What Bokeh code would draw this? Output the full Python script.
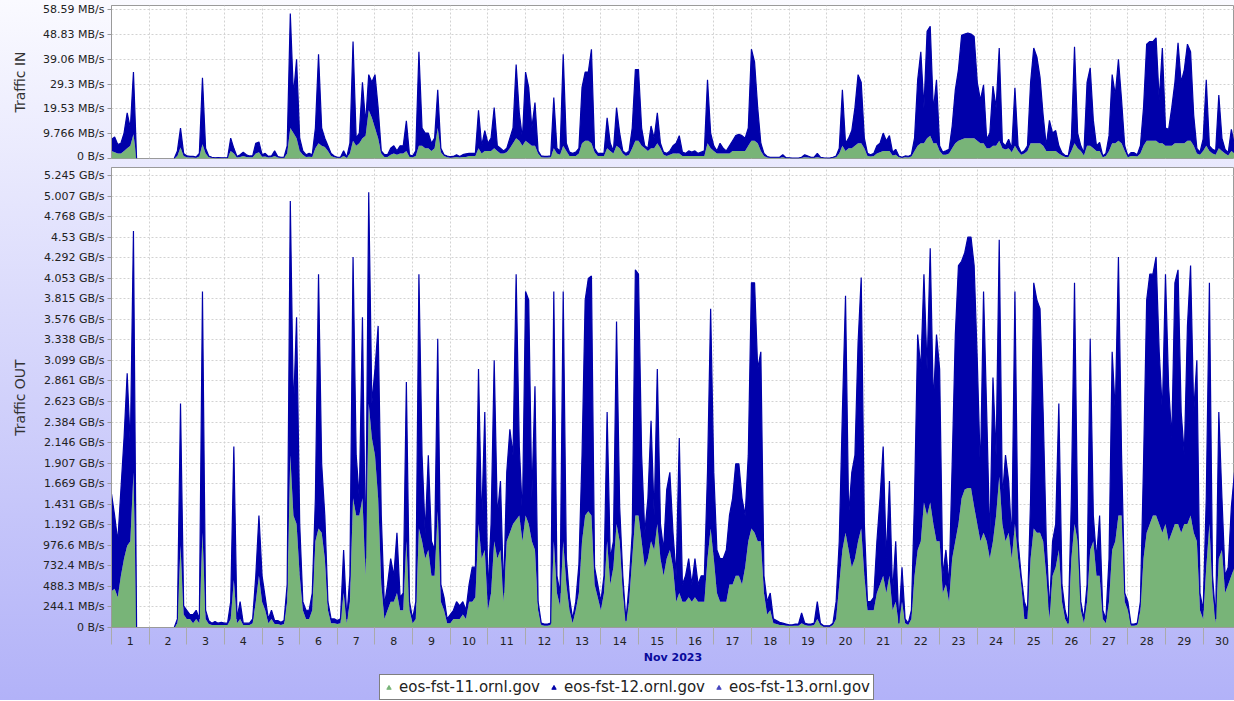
import numpy as np
from bokeh.plotting import figure
from bokeh.models import ColumnDataSource, Range1d, FixedTicker, Legend, LegendItem
from bokeh.layouts import column
from bokeh.transform import stack
from bokeh.embed import file_html
from bokeh.resources import INLINE

N = None  # no data

# ---- Traffic IN (MB/s), one row per day of Nov 2023, samples every 2 h ----
IN_FST11 = [
    3, 2.5, 2, 2, 3, 4, 5, 9.5, 0, N, N, N,
    N, N, N, N, N, N, N, N, 0, 1, 4.3, 1,
    0.5, 0.4, 0.4, 0.3, 0.8, 5.6, 2, 0.5, 0.3, 0.2, 0.2, 0.2,
    0.2, 0.2, 3, 2, 0.4, 0.6, 1, 0.6, 0.5, 0.5, 2, 2.5,
    0.7, 0.8, 0.4, 0.5, 1, 0.4, 0.3, 0.3, 2, 12, 10, 8,
    3, 1.5, 0.6, 0.7, 0.6, 4, 6, 5, 4.5, 3, 1, 0.5,
    0.3, 0.3, 1, 0.3, 2, 7, 5, 6, 8, 9, 19, 16,
    12, 8, 2, 0.6, 0.6, 1.5, 2, 1.5, 2, 2, 3, 0.6,
    0.5, 1, 5, 5, 4, 4, 3, 4, 12, 2.5, 1, 0.5,
    0.3, 0.4, 0.6, 0.4, 0.6, 0.6, 1, 1, 1, 4, 2, 3,
    3, 3, 4, 3, 2, 2, 2.5, 4, 6, 8, 7, 5,
    7, 6, 5, 5, 2, 0.5, 0.4, 0.4, 0.5, 4, 2, 1.5,
    5, 3, 1, 1, 1, 2, 6, 7, 7, 6, 2.5, 1,
    1, 1, 4, 3, 2, 5, 4, 2, 1, 1.5, 4, 7,
    7, 5, 4, 3, 4, 4, 6, 4, 1.5, 1, 1.5, 2,
    2, 2, 1, 1, 1, 1, 1, 1, 1, 1, 6, 4,
    3, 2, 2, 2, 2, 2, 3, 3, 3, 3, 3, 5,
    7, 7, 6, 3, 1, 0.4, 0.3, 0.3, 0.3, 0.3, 0.5, 0.2,
    0.2, 0.1, 0.1, 0.1, 0.3, 0.5, 0.4, 0.3, 0.3, 0.5, 0.3, 0.2,
    0.1, 0.1, 0.3, 0.5, 2, 5, 3, 4, 4, 5, 6, 6,
    4, 1, 0.8, 1, 2, 2.5, 3, 3, 3, 1.2, 1.5, 0.5,
    0.3, 0.5, 0.4, 0.8, 3, 5, 6, 6, 8, 9, 6, 6,
    3, 1.5, 1.5, 2, 4, 6, 7, 7.5, 8, 8, 8, 8,
    7, 6, 6, 4, 4, 5, 5, 7, 4, 3.5, 4, 2.5,
    5, 3, 1.5, 2, 3, 6, 6, 6, 6, 5, 3, 3,
    3, 3, 2, 1.2, 0.6, 0.5, 3, 6, 4, 3, 1.2, 5,
    5, 4, 3, 3, 0.5, 1, 3, 6, 6, 7, 6, 3,
    0.5, 1, 1, 0.8, 2, 5, 7, 7, 7, 7, 6, 6,
    5, 5, 5, 6, 6, 6, 6, 7, 7, 5, 2, 1.5,
    3, 5, 3, 2, 1.5, 4, 3, 2, 1.2, 3, 2, 2,
]
IN_FST12 = [
    4.5, 6, 3.5, 4, 7, 14, 7, 24.5, 0, N, N, N,
    N, N, N, N, N, N, N, N, 0, 2, 7.7, 1,
    0.5, 0.4, 0.4, 0.3, 1.2, 26.2, 2, 0.5, 0.2, 0.1, 0.2, 0.1,
    0.1, 0.1, 5, 2, 0.4, 0.9, 1.5, 0.9, 0.5, 0.5, 4, 4,
    0.8, 1.2, 0.4, 0.5, 2, 0.4, 0.2, 0.2, 3, 45, 15, 31,
    5, 1.5, 0.9, 1.3, 0.9, 8, 35, 7, 3.5, 2, 1, 0.5,
    0.2, 0.2, 2, 0.2, 4, 39, 3, 4, 22, 5, 14, 14,
    21, 12, 1, 0.9, 0.9, 2.5, 3, 1.5, 3, 3, 11.8, 0.9,
    0.5, 2, 37, 7, 6, 6, 3, 4, 15, 1.5, 0.5, 0.5,
    0.4, 0.4, 0.9, 0.4, 0.9, 1.2, 1, 1, 1, 15, 3, 8,
    3, 5, 16, 2, 2, 1, 1.5, 4, 6, 29, 11, 3,
    27, 22, 7, 17, 1, 0.5, 0.4, 0.4, 0.5, 20, 2, 1.5,
    36, 3, 1.5, 1, 1.5, 2, 22, 27, 27, 37, 1.5, 1,
    1, 1, 12, 3, 1, 15, 6, 1, 1, 1.5, 8, 28,
    28, 7, 1, 1, 8.8, 4, 12, 2, 1, 1, 1.5, 3,
    4, 7, 1.5, 1, 2, 1.5, 2, 1, 1.5, 2, 25, 6,
    2, 1, 4, 2, 1, 3, 4, 6, 6.5, 6, 5, 7,
    36, 31, 14, 3, 1, 0.4, 0.2, 0.2, 0.2, 0.2, 1, 0.1,
    0.1, 0.1, 0.1, 0.1, 0.2, 1, 0.6, 0.2, 0.2, 1.5, 0.2, 0.1,
    0.1, 0.1, 0.2, 0.5, 2, 22, 3, 4, 7, 15, 27, 24,
    4, 1, 0.7, 1, 3, 3.5, 7, 4, 6, 1.3, 2.1, 0.5,
    0.2, 0.5, 0.4, 0.7, 5, 26, 36, 14, 42, 43, 13, 25,
    2, 1, 1.5, 1.6, 8.8, 21, 28, 41, 41, 41.4, 41, 40,
    23, 17, 23, 3.6, 6, 23.5, 15, 36.5, 2.3, 1.5, 3.6, 1.5,
    22.8, 2, 0.8, 1, 2, 24, 37.5, 34, 26, 12, 2, 12,
    7, 8, 3, 1.1, 0.6, 0.5, 5, 38, 6, 2, 1.1, 25,
    30.7, 11, 2, 3.3, 0.5, 1, 6, 27, 19, 32, 17, 2,
    0.5, 1.3, 1.3, 0.7, 3, 15, 38, 39, 39, 40.5, 17, 37.5,
    7, 6.5, 15, 24, 39.5, 24, 29, 38, 35, 12, 2, 1,
    4.6, 26, 2, 1.6, 1.5, 21, 5, 1.6, 1.1, 8.5, 3, 3,
]

# ---- Traffic OUT (GB/s) ----
OUT_FST11 = [
    0.42, 0.45, 0.35, 0.6, 0.8, 0.95, 1.0, 1.8, 0, N, N, N,
    N, N, N, N, N, N, N, N, 0, 0.05, 0.95, 0.15,
    0.1, 0.1, 0.05, 0.1, 0.05, 1.1, 0.1, 0.04, 0.03, 0.03, 0.03, 0.03,
    0.03, 0.03, 0.1, 0.55, 0.05, 0.1, 0.03, 0.03, 0.03, 0.05, 0.3, 0.6,
    0.3, 0.2, 0.05, 0.1, 0.04, 0.04, 0.03, 0.04, 0.3, 2.0, 1.3, 1.2,
    0.6, 0.2, 0.1, 0.1, 0.2, 1.0, 1.15, 1.1, 0.8, 0.2, 0.05, 0.05,
    0.04, 0.05, 0.4, 0.05, 0.3, 1.5, 1.3, 1.3, 1.5, 0.6, 2.6, 2.2,
    2.0, 1.5, 0.5, 0.1, 0.2, 0.3, 0.3, 0.4, 0.2, 0.2, 1.0, 0.2,
    0.05, 0.1, 1.15, 1.0, 0.8, 0.9, 0.6, 0.6, 1.35, 0.3, 0.2, 0.05,
    0.05, 0.1, 0.1, 0.1, 0.15, 0.1, 0.3, 0.3, 0.35, 1.2, 0.8, 0.9,
    0.2, 0.4, 1.0, 0.8, 0.9, 0.3, 1.0, 1.1, 1.2, 1.25, 1.3, 1.0,
    1.3, 1.2, 1.0, 0.9, 0.2, 0.03, 0.02, 0.02, 0.03, 1.0, 0.4, 0.25,
    1.0, 0.5, 0.2, 0.05, 0.2, 0.4, 1.0, 1.3, 1.35, 1.3, 0.5, 0.35,
    0.2, 0.4, 1.0, 0.5, 0.7, 1.2, 1.0, 0.4, 0.05, 0.3, 0.8, 1.3,
    1.3, 1.0, 0.7, 0.8, 1.0, 0.9, 1.2, 0.8, 0.6, 0.8, 0.9, 0.7,
    0.3, 0.4, 0.3, 0.3, 0.35, 0.3, 0.35, 0.3, 0.3, 0.3, 0.8, 1.15,
    0.8, 0.4, 0.3, 0.3, 0.3, 0.5, 0.5, 0.6, 0.6, 0.5, 0.7, 1.0,
    1.15, 1.1, 1.0, 1.0, 0.4, 0.15, 0.2, 0.05, 0.04, 0.03, 0.03, 0.02,
    0.02, 0.02, 0.02, 0.02, 0.05, 0.03, 0.02, 0.02, 0.03, 0.1, 0.03, 0.01,
    0.01, 0.01, 0.03, 0.1, 0.5, 0.9, 1.1, 0.9, 0.7, 0.8, 1.0, 1.15,
    0.6, 0.2, 0.2, 0.2, 0.4, 0.5, 0.6, 0.4, 0.6, 0.2, 0.3, 0.03,
    0.3, 0.05, 0.03, 0.1, 0.6, 0.9, 1.0, 1.45, 1.3, 1.45, 1.2, 1.0,
    1.0, 0.4, 0.5, 0.3, 0.8, 1.0, 1.2, 1.5, 1.6, 1.62, 1.62, 1.4,
    1.2, 1.0, 1.1, 1.0, 0.8, 1.0, 1.3, 1.75, 1.2, 1.0, 1.1, 0.8,
    1.2, 0.8, 0.5, 0.1, 0.1, 0.8, 1.15, 1.1, 1.1, 1.0, 0.6, 0.1,
    0.6, 0.7, 0.9, 0.3, 0.1, 0.03, 0.8, 1.2, 1.0, 0.2, 0.05, 0.3,
    0.9, 1.0, 0.6, 0.6, 0.1, 0.05, 0.3, 0.9, 1.0, 1.3, 1.3, 0.3,
    0.2, 0.02, 0.02, 0.03, 0.2, 0.8, 1.1, 1.2, 1.3, 1.3, 1.2, 1.1,
    1.2, 1.0, 1.1, 1.2, 1.2, 1.1, 1.2, 1.2, 1.3, 1.1, 1.0, 0.2,
    0.1, 0.7, 1.2, 0.4, 0.05, 0.8, 0.9, 0.4, 0.5, 0.6, 0.7, 0.6,
]
OUT_FST12 = [
    1.13, 0.85, 0.65, 1.0, 1.4, 2.0, 1.1, 2.8, 0, N, N, N,
    N, N, N, N, N, N, N, N, 0, 0.05, 1.65, 0.1,
    0.1, 0.05, 0.1, 0.1, 0.05, 2.8, 0.1, 0.04, 0.02, 0.04, 0.02, 0.03,
    0.02, 0.02, 0.2, 1.55, 0.05, 0.2, 0.02, 0.02, 0.02, 0.05, 0.3, 0.7,
    0.3, 0.15, 0.05, 0.1, 0.04, 0.04, 0.03, 0.04, 0.2, 2.95, 1.2, 2.4,
    0.6, 0.1, 0.1, 0.1, 0.2, 0.5, 2.95, 0.8, 0.5, 0.1, 0.05, 0.05,
    0.04, 0.05, 0.5, 0.05, 0.3, 2.8, 0.7, 0.2, 2.1, 0.2, 2.45, 0.4,
    1.0, 2.0, 0.8, 0.15, 0.3, 0.5, 0.3, 0.7, 0.15, 0.2, 1.85, 0.1,
    0.05, 0.2, 2.95, 1.0, 0.3, 1.1, 0.4, 0.3, 2.0, 0.2, 0.15, 0.05,
    0.1, 0.1, 0.2, 0.15, 0.15, 0.1, 0.2, 0.4, 0.35, 1.8, 0.4, 1.6,
    0.2, 0.8, 2.1, 0.5, 0.8, 0.1, 0.8, 1.2, 0.8, 2.85, 0.8, 0.3,
    2.6, 2.6, 0.5, 1.9, 0.1, 0.02, 0.02, 0.02, 0.02, 2.9, 0.2, 0.15,
    2.9, 0.3, 0.15, 0.05, 0.1, 0.33, 1.0, 2.5, 2.7, 2.78, 0.2, 0.15,
    0.1, 0.2, 1.5, 0.3, 0.3, 2.35, 0.4, 0.2, 0.03, 0.2, 0.3, 2.85,
    2.8, 1.0, 0.4, 0.7, 1.4, 0.4, 1.8, 0.4, 0.3, 0.8, 0.9, 0.4,
    0.3, 1.8, 0.2, 0.3, 0.45, 0.2, 0.45, 0.2, 0.3, 0.3, 1.0, 2.55,
    1.0, 0.5, 0.5, 0.5, 0.6, 0.8, 1.0, 1.3, 1.3, 1.0, 0.6, 1.0,
    2.85, 2.9, 2.0, 2.2, 0.2, 0.15, 0.2, 0.05, 0.04, 0.03, 0.02, 0.02,
    0.01, 0.01, 0.02, 0.02, 0.12, 0.02, 0.02, 0.02, 0.02, 0.2, 0.02, 0.01,
    0.01, 0.01, 0.02, 0.2, 0.5, 1.6, 2.75, 0.4, 1.1, 1.2, 2.3, 2.91,
    0.6, 0.1, 0.1, 0.15, 0.6, 1.0, 1.5, 0.4, 1.1, 0.2, 0.7, 0.02,
    0.4, 0.05, 0.02, 0.1, 0.9, 2.5, 2.0, 2.65, 1.7, 2.95, 1.4, 2.4,
    2.0, 0.2, 0.4, 0.2, 1.1, 2.4, 3.0, 2.75, 2.75, 2.91, 2.91, 2.8,
    1.9, 0.8, 2.8, 1.5, 0.2, 1.9, 0.7, 2.75, 0.3, 1.0, 0.6, 0.2,
    2.7, 0.2, 0.1, 0.2, 0.1, 0.7, 2.85, 2.7, 2.6, 1.5, 0.4, 0.1,
    0.4, 0.5, 1.7, 0.2, 0.1, 0.02, 0.7, 2.8, 0.2, 0.1, 0.05, 0.2,
    2.45, 0.3, 0.2, 0.7, 0.1, 0.05, 0.5, 2.3, 1.5, 3.0, 0.7, 0.1,
    0.1, 0.02, 0.02, 0.02, 0.1, 1.1, 2.7, 2.9, 2.8, 3.0, 2.0, 1.4,
    2.9, 1.8, 1.1, 2.8, 2.95, 1.4, 0.8, 2.3, 2.9, 1.4, 2.1, 0.2,
    0.1, 0.8, 2.8, 0.2, 0.05, 1.7, 0.6, 0.2, 0.2, 0.8, 1.1, 0.6,
]

HOURS = np.arange(0, 720, 2)          # sample times, hours since 1 Nov 00:00
DAY_LABELS = [str(d) for d in range(1, 31)]
SERIES = ["eos-fst-11.ornl.gov", "eos-fst-12.ornl.gov", "eos-fst-13.ornl.gov"]

IN_TICKS = [0, 9.766, 19.53, 29.3, 39.06, 48.83, 58.59]
IN_LABELS = ["0 B/s", "9.766 MB/s", "19.53 MB/s", "29.3 MB/s", "39.06 MB/s",
             "48.83 MB/s", "58.59 MB/s"]
OUT_TICKS = [0, 0.2384, 0.4768, 0.7153, 0.9537, 1.1921, 1.4305, 1.6689, 1.9073,
             2.1458, 2.3842, 2.6226, 2.8610, 3.0994, 3.3379, 3.5763, 3.8147,
             4.0531, 4.2915, 4.5300, 4.7684, 5.0068, 5.2452]
OUT_LABELS = ["0 B/s", "244.1 MB/s", "488.3 MB/s", "732.4 MB/s", "976.6 MB/s",
              "1.192 GB/s", "1.431 GB/s", "1.669 GB/s", "1.907 GB/s", "2.146 GB/s",
              "2.384 GB/s", "2.623 GB/s", "2.861 GB/s", "3.099 GB/s", "3.338 GB/s",
              "3.576 GB/s", "3.815 GB/s", "4.053 GB/s", "4.292 GB/s", "4.53 GB/s",
              "4.768 GB/s", "5.007 GB/s", "5.245 GB/s"]

FONT = "DejaVu Sans"
GREEN = "#78b478"
BLUE = "#0000aa"
BLUE13 = "#4646bf"
GRID = "#d2d2d2"
EDGE = "#9a9a9a"

day_starts = [24 * i for i in range(31)]
day_noons = [24 * i + 12 for i in range(30)]

xr = Range1d(0, 716)


def arr(v):
    return np.array(v, dtype=float)


def style_common(p):
    p.background_fill_color = "white"
    p.border_fill_color = None
    p.outline_line_color = EDGE
    p.ygrid.grid_line_color = GRID
    p.ygrid.grid_line_dash = "2 2"
    p.xgrid.grid_line_color = GRID
    p.xgrid.grid_line_dash = "2 2"
    p.xgrid.ticker = FixedTicker(ticks=day_starts)
    ax = p.yaxis[0]
    ax.axis_line_color = EDGE
    ax.major_tick_line_color = EDGE
    ax.major_tick_out = 4
    ax.major_tick_in = 0
    ax.minor_tick_line_color = None
    ax.major_label_text_font = FONT
    ax.major_label_text_font_size = "11px"
    ax.major_label_text_color = "#222222"
    ax.major_label_standoff = 3
    ax.axis_label_text_font = FONT
    ax.axis_label_text_font_size = "14px"
    ax.axis_label_text_font_style = "normal"
    ax.axis_label_text_color = "#333333"
    ax.axis_label_standoff = 12


# ---------- top panel : Traffic IN ----------
src_in = ColumnDataSource(dict(t=HOURS, s11=arr(IN_FST11), s12=arr(IN_FST12)))
p1 = figure(frame_width=1123, frame_height=153, x_range=xr, y_range=Range1d(0, 60.2),
            output_backend="svg", toolbar_location=None, x_axis_location=None,
            title=None, min_border_left=111, min_border_right=0,
            min_border_top=5, min_border_bottom=4)
style_common(p1)
p1.yaxis.ticker = FixedTicker(ticks=IN_TICKS)
p1.yaxis.major_label_overrides = dict(zip(IN_TICKS, IN_LABELS))
p1.yaxis.axis_label = "Traffic IN"
p1.varea_stack(["s11", "s12"], x="t", color=[GREEN, BLUE], source=src_in)
p1.line(x="t", y=stack("s11", "s12"), source=src_in, color=BLUE, line_width=1.2)

# ---------- bottom panel : Traffic OUT ----------
src_out = ColumnDataSource(dict(t=HOURS, s11=arr(OUT_FST11), s12=arr(OUT_FST12)))
p2 = figure(frame_width=1123, frame_height=460, x_range=xr, y_range=Range1d(0, 5.338),
            output_backend="svg", toolbar_location=None, title=None,
            min_border_left=111, min_border_right=0, min_border_top=5,
            min_border_bottom=0)
style_common(p2)
p2.yaxis.ticker = FixedTicker(ticks=OUT_TICKS)
p2.yaxis.major_label_overrides = dict(zip(OUT_TICKS, OUT_LABELS))
p2.yaxis.axis_label = "Traffic OUT"

xa = p2.xaxis[0]
xa.ticker = FixedTicker(ticks=day_noons, minor_ticks=day_starts)
xa.major_label_overrides = dict(zip(day_noons, DAY_LABELS))
xa.axis_line_color = EDGE
xa.major_tick_out = 0
xa.major_tick_in = 0
xa.minor_tick_out = 17
xa.minor_tick_in = 0
xa.minor_tick_line_color = "#aaaaaa"
xa.major_label_text_font = FONT
xa.major_label_text_font_size = "11px"
xa.major_label_text_color = "#222222"
xa.major_label_standoff = -8
xa.axis_label = "Nov 2023"
xa.axis_label_text_font = FONT
xa.axis_label_text_font_size = "11px"
xa.axis_label_text_font_style = "bold"
xa.axis_label_text_color = "#0a0a9c"
xa.axis_label_standoff = 3

p2.varea_stack(["s11", "s12"], x="t", color=[GREEN, BLUE], source=src_out)
p2.line(x="t", y=stack("s11", "s12"), source=src_out, color=BLUE, line_width=1.2)

# ---------- legend strip ----------
p3 = figure(width=1234, height=34, x_range=Range1d(0, 1), y_range=Range1d(0, 1),
            output_backend="svg", toolbar_location=None, title=None,
            x_axis_location=None, y_axis_location=None, min_border=0,
            outline_line_color=None, background_fill_color=None,
            border_fill_color=None)
p3.grid.visible = False
# legend swatches: one marker each, placed outside the strip's visible range
swatches = []
for c in (GREEN, BLUE, BLUE13):
    swatches.append(p3.scatter(x=[0.5], y=[-1.0], marker="triangle", size=10, color=c))
legend = Legend(items=[LegendItem(label=s, renderers=[r]) for s, r in zip(SERIES, swatches)],
                orientation="horizontal", location=(268, 0))
legend.label_text_font = FONT
legend.label_text_font_size = "15px"
legend.label_text_color = "#222222"
legend.glyph_width = 11
legend.glyph_height = 11
legend.label_standoff = 5
legend.spacing = 8
legend.padding = 3
legend.margin = 0
legend.border_line_color = "black"
legend.border_line_width = 1
legend.background_fill_color = "white"
legend.background_fill_alpha = 1
p3.add_layout(legend)

layout = column(p1, p2, p3, styles={"background": "linear-gradient(180deg, #fafaff 0%, #b2b2f8 100%)"})

with open("out.html", "w") as f:
    f.write(file_html(layout, INLINE))
